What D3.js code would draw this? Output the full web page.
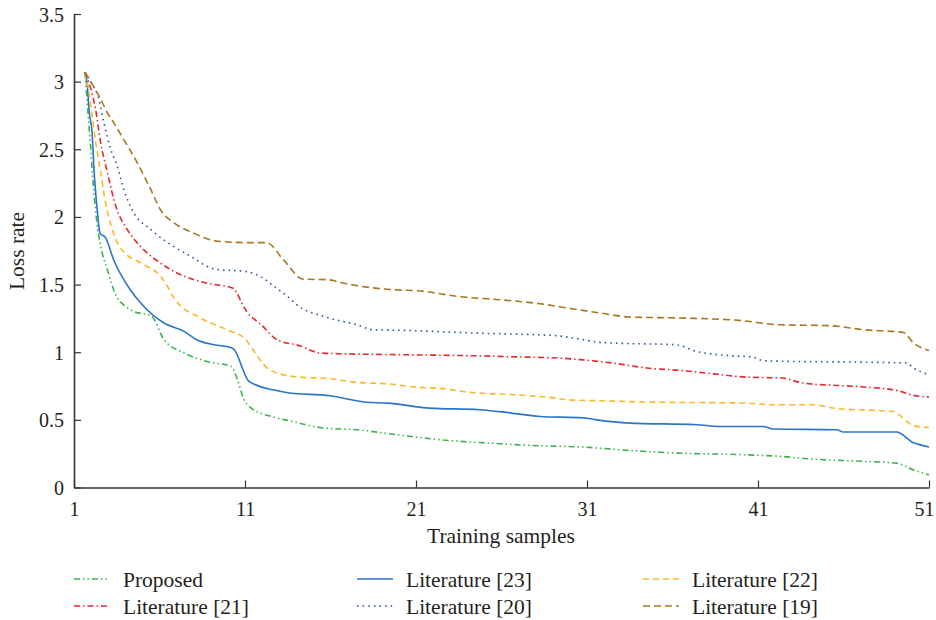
<!DOCTYPE html>
<html>
<head>
<meta charset="utf-8">
<script src="https://cdn.jsdelivr.net/npm/d3@7/dist/d3.min.js"></script>
<style>
  html, body { margin: 0; padding: 0; background: #ffffff; }
  svg { display: block; }
  text { font-family: "Liberation Serif", "DejaVu Serif", serif; fill: #231f20; }
</style>
</head>
<body>
<svg id="chart" width="936" height="620"></svg>
<script>
// ---------- data ----------
const xTicks = [1, 11, 21, 31, 41, 51];
const yTicks = [0, 0.5, 1, 1.5, 2, 2.5, 3, 3.5];
const yTickLabels = ["0", "0.5", "1", "1.5", "2", "2.5", "3", "3.5"];
const seriesNames = ["Proposed", "Literature [23]", "Literature [22]", "Literature [21]", "Literature [20]", "Literature [19]"];

const proposed = [[1.64,3.07],[1.8,2.8],[1.95,2.55],[2.15,2.2],[2.35,1.95],[2.52,1.81],[2.95,1.61],[3.44,1.425],[4.0,1.34],[4.52,1.30],[5.5,1.27],[6.28,1.09],[7.45,0.994],[8.82,0.93],[10.2,0.895],[10.55,0.80],[10.94,0.65],[11.33,0.59],[12.7,0.52],[13.7,0.49],[15.58,0.44],[17.53,0.427],[19.87,0.39],[22.4,0.353],[25.3,0.328],[28.25,0.308],[30.6,0.30],[33.5,0.274],[36.4,0.254],[40.3,0.242],[42.3,0.23],[44.2,0.21],[47.2,0.193],[49.1,0.18],[50.1,0.13],[51,0.094]];
const lit23 = [[1.64,3.07],[1.78,2.97],[1.88,2.79],[2.07,2.6],[2.17,2.35],[2.36,2.05],[2.52,1.88],[2.85,1.845],[3.33,1.68],[4.3,1.46],[4.9,1.364],[6.26,1.216],[7.43,1.154],[8.2,1.09],[9.2,1.055],[10.17,1.035],[10.36,1.02],[11.23,0.784],[12.7,0.72],[13.5,0.70],[15.97,0.678],[18.1,0.63],[19.3,0.624],[21.8,0.587],[24.7,0.575],[26.3,0.555],[28.25,0.525],[30.8,0.515],[31.57,0.50],[33.5,0.476],[37.4,0.464],[38.8,0.451],[41.3,0.451],[41.9,0.432],[45.6,0.427],[46.0,0.41],[49.1,0.41],[50.1,0.33],[51,0.30]];
const lit22 = [[1.64,3.07],[1.88,2.92],[2.07,2.74],[2.27,2.55],[2.56,2.33],[2.85,2.10],[3.24,1.906],[3.53,1.81],[3.92,1.74],[4.9,1.66],[6.07,1.56],[6.36,1.51],[6.85,1.40],[8.4,1.253],[9.97,1.166],[11.0,1.10],[11.4,1.03],[12.3,0.883],[12.9,0.846],[13.87,0.82],[15.97,0.804],[17.53,0.777],[19.3,0.767],[21.0,0.742],[22.8,0.728],[23.95,0.706],[26.7,0.686],[28.8,0.666],[29.97,0.648],[31.76,0.641],[34.5,0.632],[40.3,0.624],[41.9,0.612],[44.2,0.612],[45.6,0.584],[48.9,0.562],[49.7,0.488],[50.1,0.456],[51,0.444]];
const lit21 = [[1.64,3.07],[1.88,2.99],[2.27,2.79],[2.56,2.55],[2.95,2.33],[3.44,2.08],[4.12,1.906],[4.9,1.78],[5.87,1.675],[7.24,1.573],[8.8,1.51],[10.26,1.475],[11.1,1.30],[11.97,1.2],[12.9,1.09],[14.2,1.048],[15.4,0.994],[16.55,0.989],[20.45,0.981],[24.3,0.974],[27.3,0.964],[29.4,0.957],[30.6,0.945],[32.5,0.92],[34.5,0.883],[36.4,0.866],[38.4,0.84],[40.3,0.816],[42.45,0.809],[43.6,0.772],[47.2,0.743],[49.1,0.718],[50.1,0.681],[51,0.669]];
const lit20 = [[1.64,3.07],[2.07,2.98],[2.46,2.87],[2.75,2.695],[3.15,2.50],[3.53,2.374],[3.92,2.20],[4.41,2.05],[5.5,1.906],[6.85,1.78],[7.82,1.71],[9.2,1.615],[11.1,1.595],[11.9,1.56],[12.7,1.487],[13.7,1.388],[14.02,1.351],[15.58,1.265],[17.53,1.203],[18.5,1.166],[20.45,1.161],[24.3,1.142],[29.2,1.122],[30.2,1.105],[31.76,1.073],[32.5,1.068],[36.2,1.055],[37.4,1.006],[39.4,0.974],[40.7,0.964],[41.3,0.937],[49.7,0.92],[50.1,0.883],[51,0.834]];
const lit19 = [[1.64,3.07],[2.07,2.98],[2.56,2.87],[2.95,2.77],[3.33,2.695],[3.92,2.57],[4.7,2.40],[5.5,2.20],[6.07,2.05],[6.85,1.956],[8.0,1.88],[9.38,1.82],[11.33,1.81],[12.27,1.81],[13.24,1.684],[14.4,1.54],[15.8,1.536],[17.15,1.50],[19.1,1.467],[21.45,1.45],[23.4,1.413],[25.9,1.388],[27.9,1.364],[30.2,1.32],[31.76,1.29],[33.5,1.26],[36.4,1.253],[39.9,1.235],[42.3,1.203],[45.2,1.196],[47.2,1.166],[49.5,1.146],[50.1,1.068],[51,1.013]];

// ---------- styles ----------
const seriesData = [proposed, lit23, lit22, lit21, lit20, lit19];
const colors = ["#3cb44a", "#2a75c6", "#fdb827", "#e8262b", "#2c5a9c", "#a8761e"];
const dashes = ["6,3,1.5,3,1.5,3", null, "6,4", "6,3,1.5,3", "1.6,4", "7,4"];

const svg = d3.select("#chart");
const x = d3.scaleLinear().domain([1, 51]).range([74, 929]);
const y = d3.scaleLinear().domain([0, 3.5]).range([487.5, 14]);

// axes
const gx = svg.append("g").attr("transform", `translate(0,${y(0)})`)
  .call(d3.axisBottom(x).tickValues(xTicks).tickSizeInner(-7).tickSizeOuter(0).tickPadding(14).tickFormat(d3.format("d")));
const gy = svg.append("g").attr("transform", `translate(${x(1)},0)`)
  .call(d3.axisLeft(y).tickValues(yTicks).tickSizeInner(-7).tickSizeOuter(0).tickPadding(10).tickFormat((d, i) => yTickLabels[i]));
[gx, gy].forEach(g => {
  g.select(".domain").attr("stroke", "#333").attr("stroke-width", 1.6);
  g.selectAll(".tick line").attr("stroke", "#333").attr("stroke-width", 1.2);
  g.selectAll(".tick text").attr("font-size", 20).attr("font-family", "Liberation Serif").attr("fill", "#231f20");
});
gy.selectAll(".tick text").attr("dy", "0.35em");
gx.selectAll(".tick text").filter(d => d === 51).attr("dx", -5);

// lines
const line = d3.line().x(d => x(d[0])).y(d => y(d[1])).curve(d3.curveMonotoneX);
seriesData.forEach((s, i) => {
  svg.append("path").datum(s)
    .attr("d", line)
    .attr("fill", "none")
    .attr("stroke", colors[i])
    .attr("stroke-width", 1.6)
    .attr("stroke-dasharray", dashes[i]);
});

// axis titles
svg.append("text").attr("x", 501).attr("y", 543).attr("text-anchor", "middle")
  .attr("font-size", 21.5).text("Training samples");
svg.append("text").attr("transform", "translate(24,251) rotate(-90)").attr("text-anchor", "middle")
  .attr("font-size", 21.5).text("Loss rate");

// legend
const legCols = [74, 357, 643];
const legRows = [579, 606];
seriesNames.forEach((name, i) => {
  const cx = legCols[i % 3], cy = legRows[Math.floor(i / 3)];
  svg.append("line").attr("x1", cx).attr("x2", cx + 36).attr("y1", cy).attr("y2", cy)
    .attr("stroke", colors[i]).attr("stroke-width", 1.6).attr("stroke-dasharray", dashes[i]);
  svg.append("text").attr("x", cx + 49).attr("y", cy).attr("dy", "0.35em")
    .attr("font-size", 21.5).text(name);
});
</script>
</body>
</html>
